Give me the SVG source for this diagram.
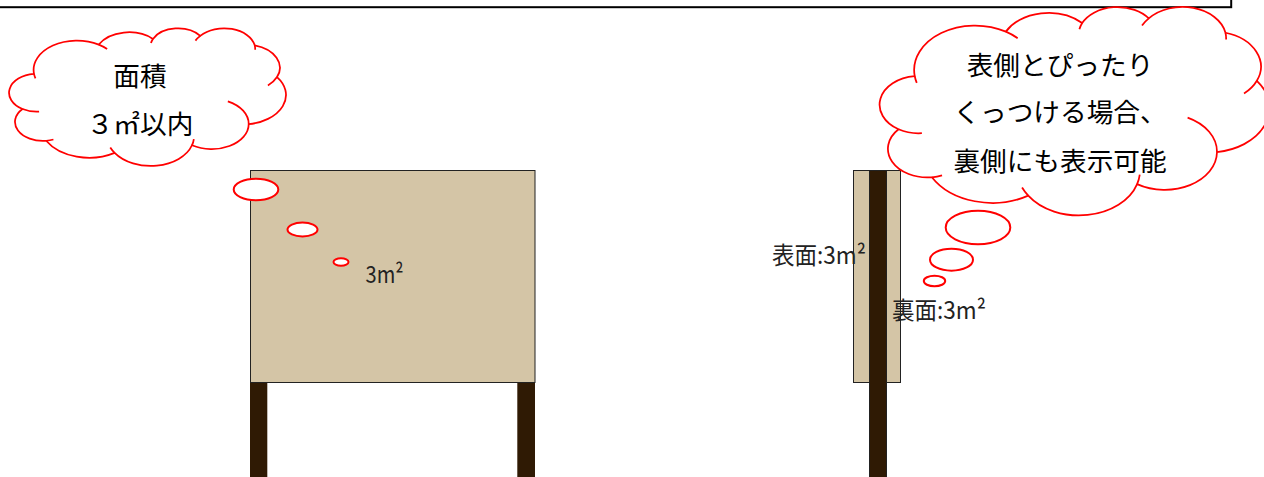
<svg xmlns="http://www.w3.org/2000/svg" width="1264" height="477" viewBox="0 0 1264 477">
<style>
.frame{fill:none;stroke:#000;stroke-width:2}
.cloud{fill:#fff;stroke:#f00;stroke-width:1.75;vector-effect:non-scaling-stroke;stroke-linejoin:round}
.crease{fill:none;stroke:#f00;stroke-width:1.75;vector-effect:non-scaling-stroke}
.bubble{fill:#fff;stroke:#f00;stroke-width:2}
.board{fill:#D4C5A6;stroke:#222;stroke-width:1}
.post{fill:#2F1A04}
.ctext{font-family:"Noto Sans CJK JP","Noto Sans CJK SC",sans-serif;font-size:26.67px;fill:#000;text-anchor:middle}
.label{font-family:"Noto Sans CJK JP","Noto Sans CJK SC",sans-serif;font-size:24px;fill:#222}
</style>

<rect class="frame" x="-5" y="-20" width="1236.2" height="27.2"/>

<g id="signboard-front">
<rect class="post" x="250" y="382" width="17.3" height="96"/>
<rect class="post" x="517.3" y="382" width="17.7" height="96"/>
<rect class="board" x="250.5" y="170.5" width="284.5" height="212"/>
<text class="label" x="365.5" y="283" textLength="38" lengthAdjust="spacingAndGlyphs">3m²</text>
</g>

<g id="signboard-side">
<rect class="board" x="853.5" y="170.5" width="16" height="212"/>
<rect class="board" x="886.5" y="170.5" width="14" height="212"/>
<rect class="post" x="869.5" y="170.5" width="17" height="307" stroke="#222" stroke-width="1"/>
<text class="label" x="772" y="263.5" textLength="94" lengthAdjust="spacingAndGlyphs">表面:3m²</text>
<text class="label" x="892" y="318.5" textLength="94" lengthAdjust="spacingAndGlyphs">裏面:3m²</text>
</g>

<g id="callout-area">
<path class="cloud" transform="matrix(0.00641204 0 0 0.00319444 9 28)" d="M3900 14370A6753 9190 0 0 1 14000 5192A5333 7267 0 0 1 22451 3421A4365 5945 0 0 1 29829 2468A4857 6595 0 0 1 38324 5426A5333 7273 0 0 1 41798 15354A6775 9220 0 0 1 37384 30097A5785 7867 0 0 1 28536 36707A6752 9215 0 0 1 16478 39090A7720 10543 0 0 1 5802 35296A4360 5918 0 0 1 2111 25374A4345 5945 0 0 1 3900 14370Z"/>
<path class="crease" transform="matrix(0.00641204 0 0 0.00319444 9 28)" d="M4693 26177A4345 5945 0 0 1 2111 25374M6928 34899A4360 5918 0 0 1 5802 35296M16478 39090A6752 9215 0 0 1 15793 37418M28827 34751A6752 9215 0 0 1 28536 36707M34129 22954A5785 7867 0 0 1 37384 30097M41798 15354A5333 7273 0 0 1 40377 17985M38324 5426A4857 6595 0 0 1 38390 6827M29078 3952A4857 6595 0 0 1 29829 2468M22141 4720A4365 5945 0 0 1 22451 3421M14000 5192A6753 9190 0 0 1 15305 6550M4127 15789A6753 9190 0 0 1 3900 14370"/>
<ellipse class="bubble" cx="256" cy="189.5" rx="22.3" ry="10.8"/>
<ellipse class="bubble" cx="302.5" cy="229.5" rx="15" ry="7"/>
<ellipse class="bubble" cx="341" cy="262" rx="7.5" ry="3.7"/>
<text class="ctext" x="140" y="86">面積</text>
<text class="ctext" x="140" y="134">３㎡以内</text>
</g>

<g id="callout-both-sides">
<path class="cloud" transform="matrix(0.00902778 0 0 0.00483796 879.5 6.5)" d="M3900 14370A6753 9190 0 0 1 14000 5192A5333 7267 0 0 1 22451 3421A4365 5945 0 0 1 29829 2468A4857 6595 0 0 1 38324 5426A5333 7273 0 0 1 41798 15354A6775 9220 0 0 1 37384 30097A5785 7867 0 0 1 28536 36707A6752 9215 0 0 1 16478 39090A7720 10543 0 0 1 5802 35296A4360 5918 0 0 1 2111 25374A4345 5945 0 0 1 3900 14370Z"/>
<path class="crease" transform="matrix(0.00902778 0 0 0.00483796 879.5 6.5)" d="M4693 26177A4345 5945 0 0 1 2111 25374M6928 34899A4360 5918 0 0 1 5802 35296M16478 39090A6752 9215 0 0 1 15793 37418M28827 34751A6752 9215 0 0 1 28536 36707M34129 22954A5785 7867 0 0 1 37384 30097M41798 15354A5333 7273 0 0 1 40377 17985M38324 5426A4857 6595 0 0 1 38390 6827M29078 3952A4857 6595 0 0 1 29829 2468M22141 4720A4365 5945 0 0 1 22451 3421M14000 5192A6753 9190 0 0 1 15305 6550M4127 15789A6753 9190 0 0 1 3900 14370"/>
<ellipse class="bubble" cx="978" cy="227.5" rx="32.3" ry="16.7"/>
<ellipse class="bubble" cx="951.5" cy="259.7" rx="21.5" ry="11"/>
<ellipse class="bubble" cx="934.5" cy="281" rx="10.7" ry="5.3"/>
<text class="ctext" x="1060" y="74.5">表側とぴったり</text>
<text class="ctext" x="1060" y="122">くっつける場合、</text>
<text class="ctext" x="1060" y="170.5">裏側にも表示可能</text>
</g>
</svg>
